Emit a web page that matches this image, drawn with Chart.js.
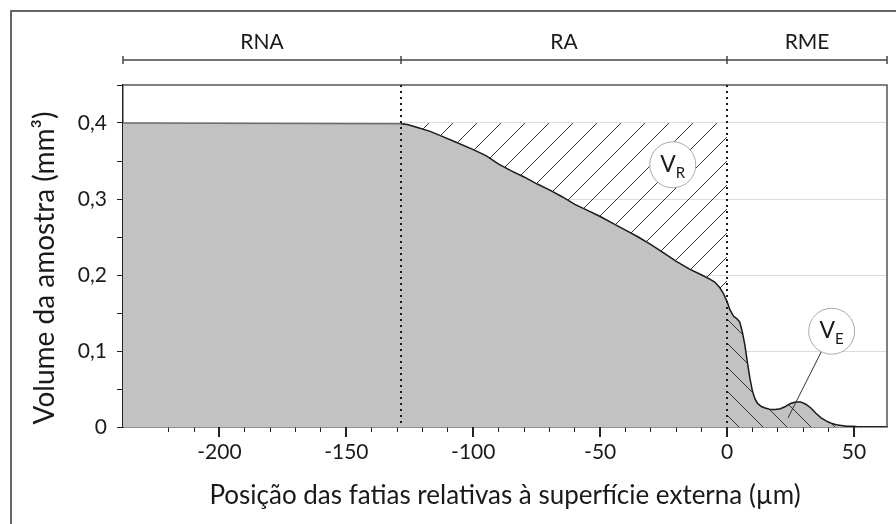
<!DOCTYPE html>
<html>
<head>
<meta charset="utf-8">
<script src="https://cdn.jsdelivr.net/npm/chart.js@4.4.1/dist/chart.umd.min.js"></script>
<style>
  html, body { margin: 0; padding: 0; background: #fff; }
  #wrap { width: 896px; height: 524px; position: relative; }
</style>
</head>
<body>
<div id="wrap"><canvas id="volChart"></canvas></div>
<script>
// posição (µm) e volume (mm³)
var posicao = [-238, -128.5, -126, -122, -117, -112, -107, -100, -95, -90, -85, -80, -75, -70,
    -65, -60, -55, -50, -45, -40, -35, -30, -25, -20, -15, -10, -7, -5, -3, -1.5,
    0, 1, 2.5, 4, 5, 6, 7, 8, 9, 10, 11, 12, 13.5, 15, 17, 19, 21, 23, 25, 27, 29,
    31, 33, 35, 37, 39, 41, 43, 45, 47, 49, 51, 53, 56];
var volume = [0.4, 0.399, 0.398, 0.394, 0.389, 0.382, 0.375, 0.365, 0.357, 0.346, 0.337, 0.329, 0.320, 0.312,
    0.303, 0.293, 0.285, 0.277, 0.268, 0.259, 0.250, 0.240, 0.229, 0.218, 0.208, 0.200, 0.195, 0.191, 0.184, 0.176,
    0.165, 0.155, 0.146, 0.142, 0.138, 0.125, 0.108, 0.085, 0.064, 0.047, 0.037, 0.031, 0.027, 0.025, 0.023, 0.023, 0.024, 0.027, 0.031, 0.033, 0.033,
    0.030, 0.025, 0.018, 0.012, 0.008, 0.005, 0.003, 0.002, 0.001, 0.001, 0.0005, 0.0002, 0];

var limites = [-238, -128.5, 0, 63];      // RNA | RA | RME
var regioes = ['RNA', 'RA', 'RME'];
var volumeInicial = 0.4;
var xRotulos = [-200, -150, -100, -50, 0, 50];
var yRotulos = [0, 0.1, 0.2, 0.3, 0.4];
var yMax = 0.45;
var tituloY = 'Volume da amostra (mm³)';

var posVR = [-21.4, 0.345];
var posVE = [41.2, 0.126];
var alvoVE = [24, 0.012];

function hachura(dir) {
    var c = document.createElement('canvas');
    c.width = 24; c.height = 24;
    var g = c.getContext('2d');
    g.strokeStyle = '#333';
    g.lineWidth = 1;
    g.beginPath();
    [-24, 0, 24].forEach(function (k) {
        if (dir === '/') { g.moveTo(k, 24); g.lineTo(k + 24, 0); }
        else { g.moveTo(k, 0); g.lineTo(k + 24, 24); }
    });
    g.stroke();
    return g.createPattern(c, 'repeat');
}

var pontos = posicao.map(function (x, i) { return { x: x, y: volume[i] }; });
var topoRA = pontos.filter(function (p) { return p.x >= limites[1] && p.x <= limites[2]; })
    .map(function (p) { return { x: p.x, y: volumeInicial }; });
var areaRME = pontos.filter(function (p) { return p.x >= limites[2]; });

function ehMultiplo(v, passo) {
    return Math.abs(v / passo - Math.round(v / passo)) < 1e-6;
}

function circulo(ctx, cx, cy, sub) {
    var r = 23;
    ctx.setLineDash([]);
    ctx.beginPath();
    ctx.arc(cx, cy, r, 0, Math.PI * 2);
    ctx.fillStyle = '#fff';
    ctx.fill();
    ctx.strokeStyle = '#aaa';
    ctx.lineWidth = 1;
    ctx.stroke();
    ctx.fillStyle = '#1a1a1a';
    ctx.textBaseline = 'alphabetic';
    ctx.textAlign = 'left';
    ctx.font = '23px Lato';
    var wV = ctx.measureText('V').width;
    ctx.font = '15px Lato';
    var wS = ctx.measureText(sub).width;
    var x0 = cx - (wV + wS) / 2;
    ctx.font = '23px Lato';
    ctx.fillText('V', x0, cy + 7);
    ctx.font = '15px Lato';
    ctx.fillText(sub, x0 + wV, cy + 13);
}

var molduraPlugin = {
    id: 'moldura',
    afterDraw: function (chart) {
        var ctx = chart.ctx, area = chart.chartArea;
        var xs = chart.scales.x, ys = chart.scales.y;
        ctx.save();

        // moldura externa
        ctx.strokeStyle = '#666';
        ctx.lineWidth = 2;
        ctx.beginPath();
        ctx.moveTo(11, chart.height);
        ctx.lineTo(11, 11);
        ctx.lineTo(chart.width, 11);
        ctx.stroke();

        // topo e lado direito do gráfico
        ctx.strokeStyle = '#555';
        ctx.lineWidth = 1.5;
        ctx.beginPath();
        ctx.moveTo(area.left, area.top);
        ctx.lineTo(area.right, area.top);
        ctx.lineTo(area.right, area.bottom);
        ctx.stroke();

        // marcas principais do eixo x
        ctx.strokeStyle = '#222';
        ctx.lineWidth = 2;
        ctx.beginPath();
        xRotulos.forEach(function (v) {
            var px = Math.round(xs.getPixelForValue(v));
            ctx.moveTo(px, area.bottom);
            ctx.lineTo(px, area.bottom + 10);
        });
        ctx.stroke();

        // linhas pontilhadas entre regiões
        ctx.setLineDash([2, 4]);
        ctx.lineWidth = 2;
        ctx.strokeStyle = '#1a1a1a';
        limites.slice(1, -1).forEach(function (v) {
            var px = Math.round(xs.getPixelForValue(v));
            ctx.beginPath();
            ctx.moveTo(px, area.top);
            ctx.lineTo(px, area.bottom);
            ctx.stroke();
        });
        ctx.setLineDash([]);

        // barra das regiões
        var yb = 60;
        ctx.strokeStyle = '#444';
        ctx.lineWidth = 1.5;
        ctx.beginPath();
        ctx.moveTo(xs.getPixelForValue(limites[0]), yb);
        ctx.lineTo(xs.getPixelForValue(limites[limites.length - 1]), yb);
        limites.forEach(function (v) {
            var px = Math.round(xs.getPixelForValue(v));
            ctx.moveTo(px, yb - 4);
            ctx.lineTo(px, yb + 4);
        });
        ctx.stroke();
        ctx.fillStyle = '#1a1a1a';
        ctx.font = '21px Lato';
        ctx.textAlign = 'center';
        ctx.textBaseline = 'alphabetic';
        regioes.forEach(function (nome, i) {
            var c = (xs.getPixelForValue(limites[i]) + xs.getPixelForValue(limites[i + 1])) / 2;
            ctx.fillText(nome, c, 49);
        });

        // título do eixo y
        ctx.save();
        ctx.translate(54, 268);
        ctx.rotate(-Math.PI / 2);
        ctx.font = '28px Lato';
        ctx.textAlign = 'center';
        ctx.textBaseline = 'alphabetic';
        ctx.fillText(tituloY, 0, 0);
        ctx.restore();

        // rótulos V_R e V_E
        var cxR = xs.getPixelForValue(posVR[0]), cyR = ys.getPixelForValue(posVR[1]);
        circulo(ctx, cxR, cyR, 'R');

        var cxE = xs.getPixelForValue(posVE[0]), cyE = ys.getPixelForValue(posVE[1]);
        var tx = xs.getPixelForValue(alvoVE[0]), ty = ys.getPixelForValue(alvoVE[1]);
        var ang = Math.atan2(ty - cyE, tx - cxE);
        ctx.strokeStyle = '#333';
        ctx.lineWidth = 1;
        ctx.beginPath();
        ctx.moveTo(cxE + 23 * Math.cos(ang), cyE + 23 * Math.sin(ang));
        ctx.lineTo(tx, ty);
        ctx.stroke();
        circulo(ctx, cxE, cyE, 'E');

        ctx.restore();
    }
};

document.addEventListener('DOMContentLoaded', function () {
    Chart.defaults.font.family = 'Lato';
    Chart.defaults.font.size = 21;
    Chart.defaults.color = '#1a1a1a';

    var ctx = document.getElementById('volChart').getContext('2d');
    var volChart = new Chart(ctx, {
        type: 'line',
        data: {
            datasets: [
                {
                    label: 'Volume',
                    data: pontos,
                    borderColor: '#1a1a1a',
                    borderWidth: 1.5,
                    backgroundColor: '#c2c2c2',
                    fill: 'origin',
                    pointRadius: 0,
                    tension: 0,
                    order: 3,
                    segment: {
                        borderColor: function (c) { return c.p1.parsed.x <= limites[1] ? '#6e6e6e' : '#1a1a1a'; }
                    }
                },
                {
                    label: 'VR',
                    data: topoRA,
                    borderWidth: 0,
                    borderColor: 'rgba(0,0,0,0)',
                    backgroundColor: hachura('/'),
                    fill: 0,
                    pointRadius: 0,
                    order: 2
                },
                {
                    label: 'VE',
                    data: areaRME,
                    borderWidth: 0,
                    borderColor: 'rgba(0,0,0,0)',
                    backgroundColor: hachura('\\'),
                    fill: 'origin',
                    pointRadius: 0,
                    order: 1
                }
            ]
        },
        options: {
            responsive: true,
            maintainAspectRatio: false,
            animation: false,
            layout: { padding: { top: 85, right: 9, left: 0, bottom: 0 } },
            plugins: {
                legend: { display: false },
                tooltip: { enabled: false }
            },
            scales: {
                x: {
                    type: 'linear',
                    min: limites[0],
                    max: limites[limites.length - 1],
                    afterFit: function (s) { s.height = 97; },
                    afterBuildTicks: function (s) {
                        s.ticks = s.ticks.filter(function (t) { return ehMultiplo(t.value, 10); });
                    },
                    ticks: {
                        stepSize: 10,
                        autoSkip: false,
                        maxRotation: 0,
                        padding: 8,
                        callback: function (v) { return xRotulos.indexOf(v) >= 0 ? String(v) : ''; }
                    },
                    grid: {
                        drawOnChartArea: false,
                        tickLength: 5,
                        tickColor: '#222',
                        tickWidth: 1
                    },
                    border: { color: '#222', width: 1.5 },
                    title: {
                        display: true,
                        text: 'Posição das fatias relativas à superfície externa (µm)',
                        font: { size: 26 },
                        padding: { top: 0, bottom: 13 }
                    }
                },
                y: {
                    min: 0,
                    max: yMax,
                    afterFit: function (s) { s.width = 123; },
                    ticks: {
                        stepSize: 0.05,
                        padding: 10,
                        callback: function (v) {
                            var r = Math.round(v * 100) / 100;
                            for (var i = 0; i < yRotulos.length; i++) {
                                if (Math.abs(yRotulos[i] - r) < 1e-6) {
                                    return r === 0 ? '0' : r.toFixed(1).replace('.', ',');
                                }
                            }
                            return '';
                        }
                    },
                    grid: {
                        tickLength: 6,
                        tickColor: '#222',
                        color: function (c) {
                            var v = c.tick ? c.tick.value : 0;
                            return (v > 0.001 && ehMultiplo(v, 0.1) && v < 0.441) ? '#dcdcdc' : 'rgba(0,0,0,0)';
                        }
                    },
                    border: { color: '#222', width: 1.5 }
                }
            }
        },
        plugins: [molduraPlugin]
    });
});
</script>
</body>
</html>
